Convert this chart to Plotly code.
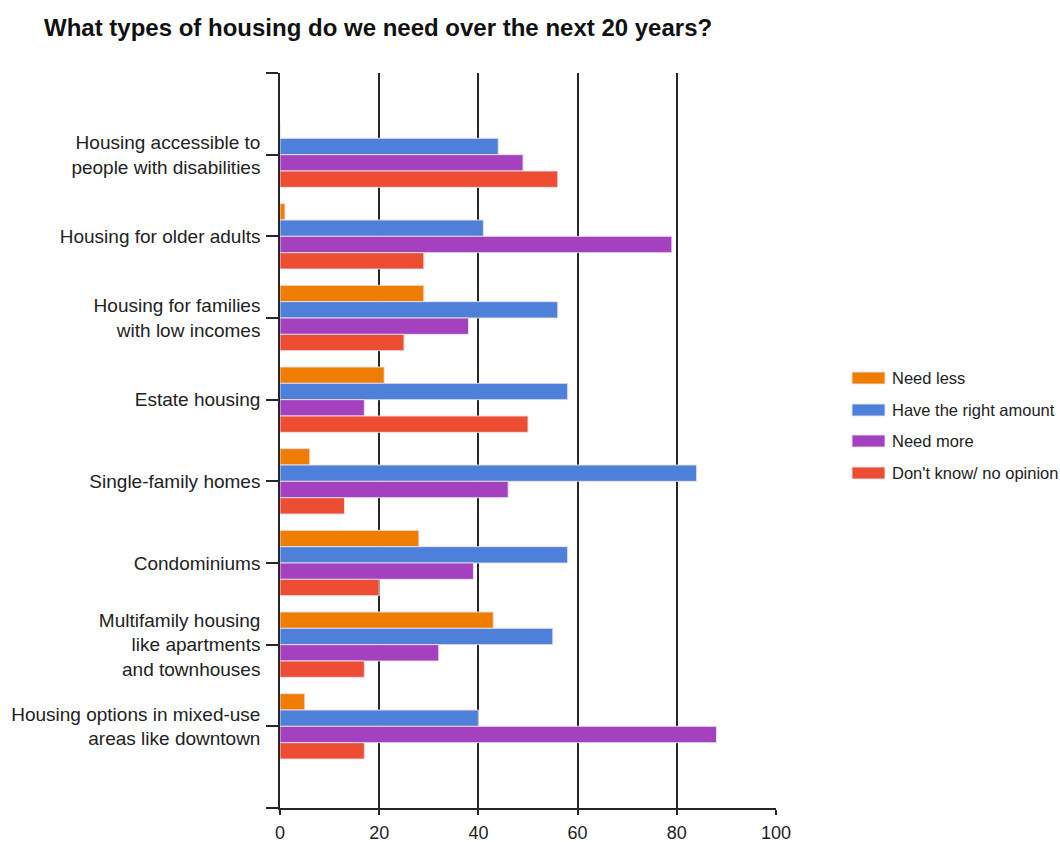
import plotly.graph_objects as go

# Survey categories, listed top to bottom
categories = [
    "Housing accessible to<br>people with disabilities",
    "Housing for older adults",
    "Housing for families<br>with low incomes",
    "Estate housing",
    "Single-family homes",
    "Condominiums",
    "Multifamily housing<br>like apartments<br>and townhouses",
    "Housing options in mixed-use<br>areas like downtown",
]

series_names = ["Need less", "Have the right amount", "Need more", "Don't know/ no opinion"]

need_less = [0, 1, 29, 21, 6, 28, 43, 5]
right_amount = [44, 41, 56, 58, 84, 58, 55, 40]
need_more = [49, 79, 38, 17, 46, 39, 32, 88]
dont_know = [56, 29, 25, 50, 13, 20, 17, 17]

x_ticks = [0, 20, 40, 60, 80, 100]

series_values = [need_less, right_amount, need_more, dont_know]
colors = ["#EE7D02", "#4E80DA", "#A441BE", "#EC4D33"]

positions = list(range(len(categories)))

fig = go.Figure()
for name, vals, col in zip(series_names, series_values, colors):
    fig.add_trace(go.Bar(
        x=vals,
        y=positions,
        name=name,
        orientation="h",
        marker=dict(color=col, line=dict(color="rgba(235,225,240,0.9)", width=1)),
        showlegend=False,
    ))

axis_col = "#262626"
font_family = "Liberation Sans, Arial, sans-serif"

# y axis: one tick per category plus a tick at each end of the axis
ytickvals = [-1] + positions + [len(categories)]
yticktext = [""] + categories + [""]

fig.update_layout(
    width=1060,
    height=842,
    margin=dict(l=280, r=284, t=73, b=34, autoexpand=False),
    paper_bgcolor="white",
    plot_bgcolor="white",
    barmode="group",
    bargap=0.2,
    bargroupgap=0.0,
    font=dict(family=font_family, color="#222222", size=18),
    title=dict(
        text="<b>What types of housing do we need over the next 20 years?</b>",
        x=44 / 1060, xanchor="left", xref="container",
        y=1 - 28 / 842, yanchor="middle", yref="container",
        font=dict(family=font_family, size=24, color="#111111"),
    ),
    xaxis=dict(
        range=[0, 100],
        tickvals=x_ticks,
        showgrid=True,
        gridcolor=axis_col,
        gridwidth=1.5,
        zeroline=False,
        showline=True,
        linecolor=axis_col,
        linewidth=1.5,
        ticks="outside",
        ticklen=5,
        tickcolor=axis_col,
        tickwidth=1.5,
        ticklabelstandoff=3,
        tickfont=dict(size=18, color="#222222"),
        automargin=False,
        fixedrange=True,
    ),
    yaxis=dict(
        range=[len(categories), -1],
        tickvals=ytickvals,
        ticktext=yticktext,
        showgrid=False,
        zeroline=False,
        showline=True,
        linecolor=axis_col,
        linewidth=1.5,
        ticks="outside",
        ticklen=12,
        tickcolor=axis_col,
        tickwidth=1.5,
        ticklabelstandoff=2,
        tickfont=dict(size=19, color="#222222"),
        automargin=False,
        fixedrange=True,
    ),
)

# Legend drawn as swatches with labels to the right of the plot
plot_h = 842 - 73 - 34
plot_w = 1060 - 280 - 284
legend_y_px = [378, 410, 441, 473]
for name, col, ypx in zip(series_names, colors, legend_y_px):
    yc = (842 - 34 - ypx) / plot_h
    fig.add_shape(
        type="rect", xref="paper", yref="paper",
        x0=(852 - 280) / plot_w, x1=(885 - 280) / plot_w,
        y0=yc - 6 / plot_h, y1=yc + 6 / plot_h,
        fillcolor=col, line=dict(color="rgba(235,225,240,0.9)", width=1),
    )
    fig.add_annotation(
        xref="paper", yref="paper",
        x=(890 - 280) / plot_w, y=yc,
        xanchor="left", yanchor="middle",
        text=name, showarrow=False,
        font=dict(family=font_family, size=16.5, color="#222222"),
    )

fig.write_html("out.html")
